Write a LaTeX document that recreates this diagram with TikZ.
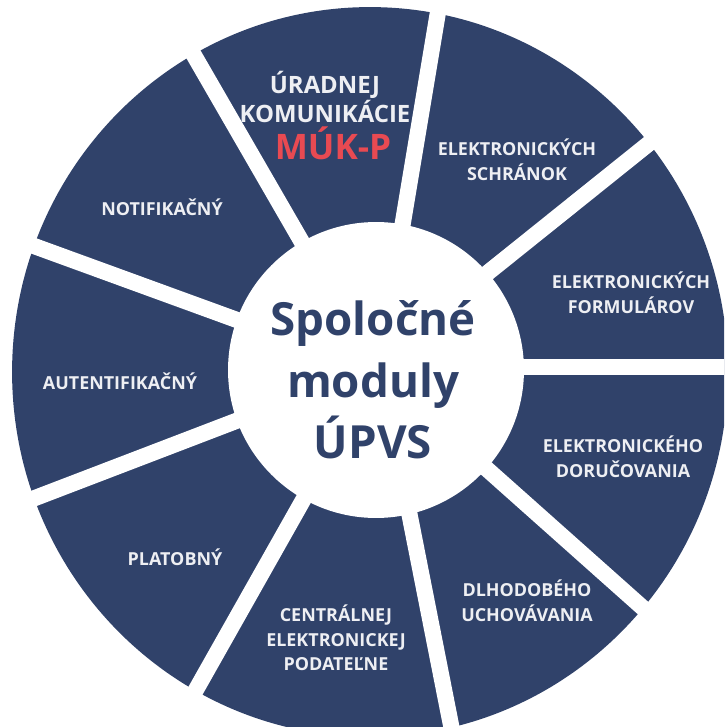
\documentclass[tikz,border=0pt]{standalone}
\usepackage{fontspec}
\setmainfont{Open Sans}

\definecolor{wheelblue}{HTML}{30426A}
\definecolor{labelwhite}{HTML}{EEEFF3}
\definecolor{mukred}{HTML}{E84A52}

\begin{document}
\begin{tikzpicture}[x=0.02cm,y=-0.02cm,
    label/.style={text=labelwhite,align=center,font=\bfseries\fontsize{10.2}{14}\selectfont},
    gap/.style={white,line width=9.2pt,shorten <=-30pt,shorten >=-30pt}]
    \useasboundingbox (0,0) rectangle (724,727);
    \clip (0,0) rectangle (724,727);

    \fill[wheelblue] (370,372) ellipse [x radius=7.16cm, y radius=7.3cm];

    \draw[gap] (303,244) -- (195,57);
    \draw[gap] (402,228) -- (438,12);
    \draw[gap] (485,275) -- (652,141);
    \draw[gap] (500,367) -- (724,367);
    \draw[gap] (488,470) -- (643,608);
    \draw[gap] (410,517) -- (450,720);
    \draw[gap] (302,502) -- (197,688);
    \draw[gap] (236,421) -- (35,498);
    \draw[gap] (237,320) -- (34,246);

    \fill[white] (376,370) circle [radius=2.96cm];

    \node[text=wheelblue,align=center,font=\bfseries\fontsize{26}{35}\selectfont] (hub) at (373,380) {Spoločné\\moduly\\ÚPVS};

    \node[label,font=\bfseries\fontsize{13.6}{14.5}\selectfont] (urad) at (325,97) {ÚRADNEJ\\KOMUNIKÁCIE};
    \node[text=mukred,font=\bfseries\fontsize{20}{24}\selectfont,anchor=base] (muk) at (333,159) {MÚK-P};
    \node[label] (schranky) at (517,160) {ELEKTRONICKÝCH\\SCHRÁNOK};
    \node[label] (formulare) at (631,293) {ELEKTRONICKÝCH\\FORMULÁROV};
    \node[label] (dorucovanie) at (623,457) {ELEKTRONICKÉHO\\DORUČOVANIA};
    \node[label] (uchovavanie) at (527,601) {DLHODOBÉHO\\UCHOVÁVANIA};
    \node[label] (podatelna) at (336,638) {CENTRÁLNEJ\\ELEKTRONICKEJ\\PODATEĽNE};
    \node[label] (platobny) at (175,557) {PLATOBNÝ};
    \node[label] (autent) at (120,381) {AUTENTIFIKAČNÝ};
    \node[label] (notif) at (162,207) {NOTIFIKAČNÝ};
\end{tikzpicture}
\end{document}
